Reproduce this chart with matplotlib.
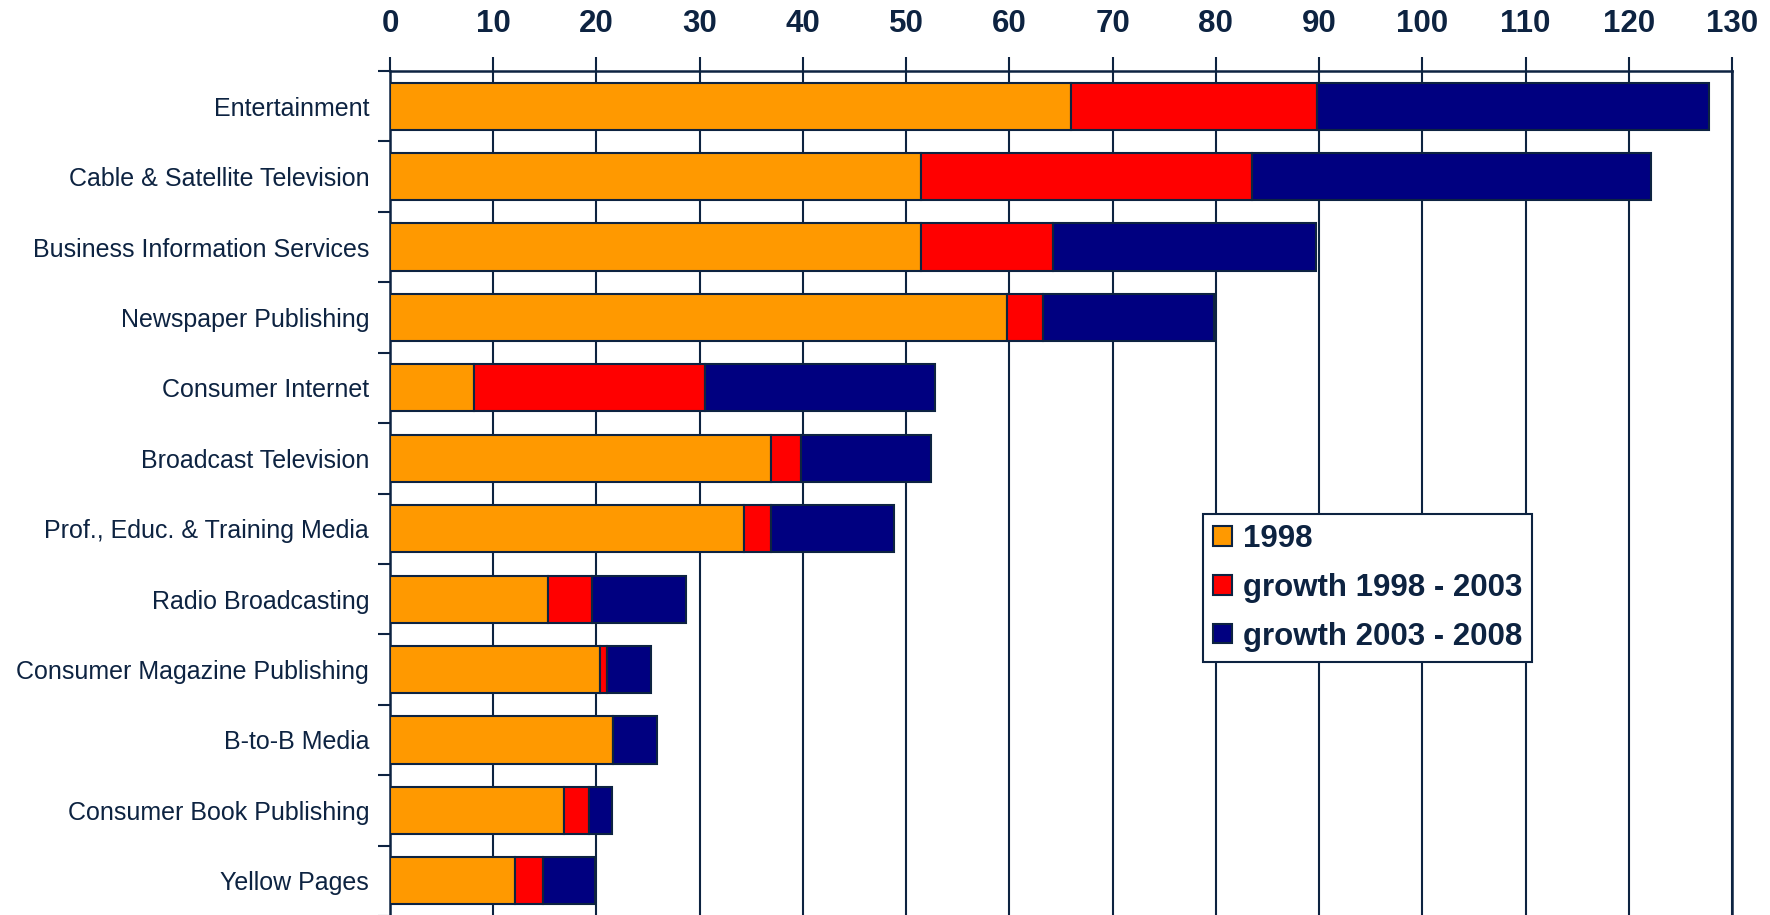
import matplotlib.pyplot as plt
import numpy as np

# media segments, top to bottom
categories = ['Entertainment', 'Cable & Satellite Television', 'Business Information Services',
              'Newspaper Publishing', 'Consumer Internet', 'Broadcast Television',
              'Prof., Educ. & Training Media', 'Radio Broadcasting', 'Consumer Magazine Publishing',
              'B-to-B Media', 'Consumer Book Publishing', 'Yellow Pages']
base_1998 = [66.0, 51.4, 51.4, 59.8, 8.1, 36.9, 34.3, 15.3, 20.3, 21.6, 16.9, 12.1]
growth_98_03 = [23.8, 32.1, 12.8, 3.5, 22.4, 2.9, 2.6, 4.3, 0.7, 0.0, 2.4, 2.7]
growth_03_08 = [38.0, 38.7, 25.5, 16.5, 22.3, 12.6, 11.9, 9.1, 4.3, 4.3, 2.2, 5.1]
series_labels = ['1998', 'growth 1998 - 2003', 'growth 2003 - 2008']
x_ticks = list(range(0, 131, 10))

navy_text = '#0d2341'
colors = ['#ff9900', '#ff0000', '#000080']

plt.rcParams['font.family'] = ['Liberation Sans', 'DejaVu Sans']

fig = plt.figure(figsize=(17.7, 9.15), dpi=100)
ax = fig.add_axes([390 / 1770, -1 / 915, (1732 - 390) / 1770, (916 - 71) / 915])

y = np.arange(len(categories))
left = np.zeros(len(categories))
for vals, col, lab in zip([base_1998, growth_98_03, growth_03_08], colors, series_labels):
    vals = np.array(vals)
    ax.barh(y, vals, left=left, height=0.67, color=col, edgecolor=navy_text,
            linewidth=1.5, label=lab, zorder=3)
    left = left + vals

ax.set_xlim(0, 130)
ax.set_ylim(len(categories) - 0.5, -0.5)

ax.xaxis.tick_top()
ax.set_xticks(x_ticks)
ax.tick_params(axis='x', length=10, width=1.5, color=navy_text, pad=13,
               labelsize=22.5, labelcolor=navy_text)
for t in ax.get_xticklabels():
    t.set_fontweight('bold')
ax.grid(axis='x', color=navy_text, linewidth=1.5, zorder=0)

# boundaries as major ticks, names as minor ticks
ax.set_yticks(np.arange(len(categories) + 1) - 0.5)
ax.set_yticklabels([])
ax.set_yticks(y, minor=True)
ax.set_yticklabels(categories, minor=True)
ax.tick_params(axis='y', which='major', length=9, width=1.5, color=navy_text)
ax.tick_params(axis='y', which='minor', length=0, pad=15, labelsize=18, labelcolor=navy_text)

for s in ax.spines.values():
    s.set_color(navy_text)
    s.set_linewidth(1.8)
ax.spines['bottom'].set_visible(False)

leg = ax.legend(loc='upper left', bbox_to_anchor=(1203 / 1770, 1 - 514 / 915),
                bbox_transform=fig.transFigure, borderaxespad=0, fancybox=False,
                framealpha=1, edgecolor=navy_text, borderpad=0.32, labelspacing=0.6,
                handlelength=0.6, handleheight=0.6, handletextpad=0.35,
                prop={'size': 22.5, 'weight': 'bold'})
leg.get_frame().set_linewidth(1.5)
for t in leg.get_texts():
    t.set_color(navy_text)

fig.savefig('out.png', dpi=100)
